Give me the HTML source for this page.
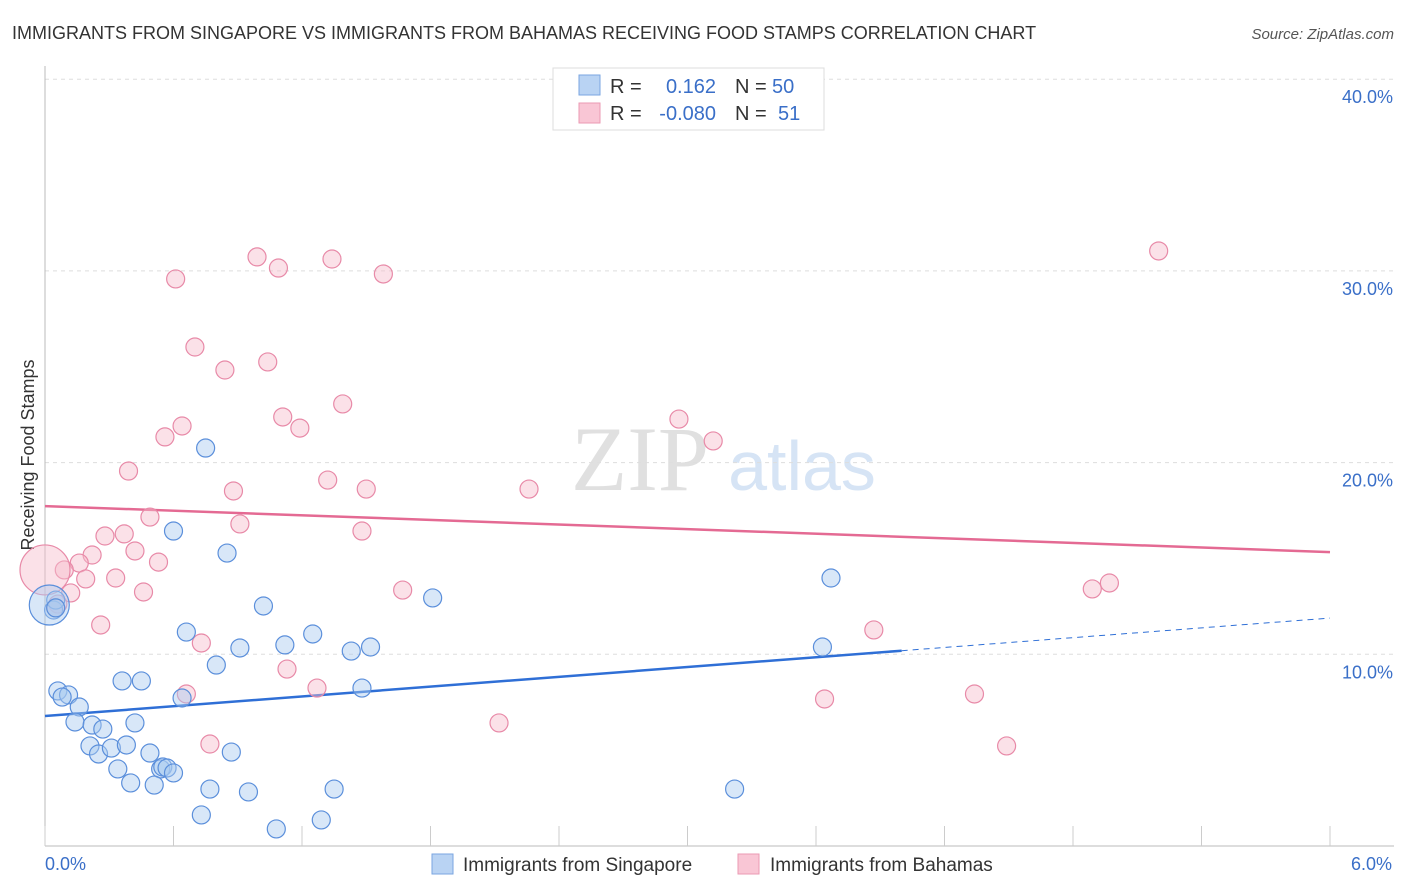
<!DOCTYPE html>
<html><head><meta charset="utf-8">
<style>
body{margin:0;background:#fff;font-family:"Liberation Sans",sans-serif;}
#wrap{position:relative;width:1406px;height:892px;overflow:hidden;}
</style></head>
<body><div id="wrap">
<svg id="chart" width="1406" height="892" xmlns="http://www.w3.org/2000/svg">
<text x="12" y="39" font-size="18" fill="#333">IMMIGRANTS FROM SINGAPORE VS IMMIGRANTS FROM BAHAMAS RECEIVING FOOD STAMPS CORRELATION CHART</text>
<text x="1394" y="39" font-size="15" fill="#555" font-style="italic" text-anchor="end">Source: ZipAtlas.com</text>
<text x="640" y="490" font-size="92" fill="#e0e0e0" font-family="Liberation Serif,serif" text-anchor="middle">ZIP</text>
<text x="802" y="490" font-size="70" fill="#d6e4f5" text-anchor="middle">atlas</text>
<text transform="translate(34,455) rotate(-90)" font-size="18" fill="#333" text-anchor="middle">Receiving Food Stamps</text>
<g id="grid"></g><g id="axes"></g><g id="trend"></g><g id="pts"></g>
<g>
<rect x="553" y="68" width="271" height="62" fill="#fff" stroke="#ddd"/>
<rect x="579" y="75" width="21" height="20" fill="#b9d3f3" stroke="#7aa6e0"/>
<rect x="579" y="103" width="21" height="20" fill="#f9c6d5" stroke="#eb9ab3"/>
<text x="610" y="93" font-size="20" fill="#333">R =</text><text x="716" y="93" font-size="20" fill="#3a6fc8" text-anchor="end">0.162</text>
<text x="735" y="93" font-size="20" fill="#333">N =</text><text x="772" y="93" font-size="20" fill="#3a6fc8">50</text>
<text x="610" y="120" font-size="20" fill="#333">R =</text><text x="716" y="120" font-size="20" fill="#3a6fc8" text-anchor="end">-0.080</text>
<text x="735" y="120" font-size="20" fill="#333">N =</text><text x="778" y="120" font-size="20" fill="#3a6fc8">51</text>
</g>
<g>
<rect x="432" y="854" width="21" height="20" fill="#b9d3f3" stroke="#7aa6e0"/>
<text x="463" y="871" font-size="19" fill="#333">Immigrants from Singapore</text>
<rect x="738" y="854" width="21" height="20" fill="#f9c6d5" stroke="#eb9ab3"/>
<text x="770" y="871" font-size="19" fill="#333">Immigrants from Bahamas</text>
</g>
</svg></div>
<script>
const yTicks=[10,20,30,40];
const yTickLabels=["10.0%","20.0%","30.0%","40.0%"];
const xTickVals=[0,0.6,1.2,1.8,2.4,3.0,3.6,4.2,4.8,5.4,6.0];
const xEndLabels=["0.0%","6.0%"];
const sgX=[0.75,0.60,0.85,1.02,1.81,0.66,1.12,1.25,0.91,1.43,1.52,0.80,3.67,3.63,0.36,0.45,1.48,0.64,0.06,0.11,0.08,0.16,0.14,0.22,0.27,0.42,0.21,0.25,0.31,0.38,0.49,0.34,0.54,0.55,0.57,0.60,0.40,0.51,0.77,0.95,1.35,0.87,3.22,0.73,1.08,1.29,0.04,0.05,0.02,0.05];
const sgY=[20.76,16.43,15.28,12.52,12.94,11.16,10.49,11.06,10.33,10.17,10.38,9.44,13.98,10.38,8.61,8.61,8.24,7.72,8.09,7.88,7.77,7.25,6.47,6.31,6.10,6.42,5.22,4.80,5.11,5.27,4.85,4.02,4.02,4.12,4.07,3.81,3.29,3.18,2.97,2.82,2.97,4.90,2.97,1.62,0.89,1.36,12.31,12.83,12.57,12.42];
const sgBig=[0,0,0,0,0,0,0,0,0,0,0,0,0,0,0,0,0,0,0,0,0,0,0,0,0,0,0,0,0,0,0,0,0,0,0,0,0,0,0,0,0,0,0,0,0,0,0,0,1,0];
const bhX=[5.20,0.99,1.09,1.34,1.58,0.61,0.70,0.84,1.04,1.11,1.19,1.39,0.64,0.56,2.96,3.12,0.39,0.88,1.32,1.50,2.26,0.49,0.91,0.28,0.37,1.48,0.42,0.22,0.53,0.16,0.09,0.00,0.33,0.19,0.46,0.12,0.06,0.05,1.67,4.89,4.97,0.26,0.73,1.13,3.87,0.66,1.27,3.64,4.34,2.12,0.77,4.49];
const bhY=[31.04,30.73,30.15,30.62,29.84,29.58,26.03,24.83,25.25,22.38,21.80,23.06,21.91,21.34,22.27,21.13,19.56,18.52,19.09,18.62,18.62,17.16,16.80,16.17,16.28,16.43,15.39,15.18,14.81,14.76,14.40,14.40,13.98,13.93,13.25,13.20,12.62,12.42,13.35,13.41,13.72,11.53,10.59,9.23,11.27,7.93,8.24,7.67,7.93,6.42,5.32,5.22];
const bhBig=[0,0,0,0,0,0,0,0,0,0,0,0,0,0,0,0,0,0,0,0,0,0,0,0,0,0,0,0,0,0,0,1,0,0,0,0,0,0,0,0,0,0,0,0,0,0,0,0,0,0,0,0];
const sgTrend=[6.78,11.89];
const bhTrend=[17.73,15.33];
const sgSolidEnd=4.0;
const NS="http://www.w3.org/2000/svg";
const X=v=>45+v*(1330-45)/6;
const Y=v=>846-v*19.17;
function mk(t,a,p){const e=document.createElementNS(NS,t);for(const k in a)e.setAttribute(k,a[k]);p.appendChild(e);return e;}
const grid=document.getElementById('grid'),axes=document.getElementById('axes');
yTicks.forEach((v,i)=>{
 const l=mk('line',{x1:45,x2:1394,y1:Y(v),y2:Y(v),stroke:'#ddd','stroke-dasharray':'4,4'},grid);
 
 
 const t=mk('text',{x:1393,y:Y(v)+24,'font-size':18,fill:'#3a6fc8','text-anchor':'end'},grid);
 t.textContent=yTickLabels[i];
 
 
});
const yl=mk('line',{x1:45,x2:45,y1:66,y2:846,stroke:'#bbb'},axes);


const xl=mk('line',{x1:45,x2:1394,y1:846,y2:846,stroke:'#bbb'},axes);


xTickVals.forEach(v=>{
 const t=mk('line',{x1:X(v),x2:X(v),y1:826,y2:846,stroke:'#ccc'},axes);
 
 
});
[[0,'start',45],[6,'end',1392]].forEach((d,i)=>{
 const t=mk('text',{x:d[2],y:870,'font-size':18,fill:'#3a6fc8','text-anchor':d[1]},axes);
 t.textContent=xEndLabels[i];
 
 
});
const pts=document.getElementById('pts');
function dots(xs,ys,big,fill,stroke,name){
 xs.forEach((x,i)=>{
  const c=mk('circle',{cx:X(x),cy:Y(ys[i]),r:big[i]?(name==='bahamas-point'?25:20):9,fill:fill,'fill-opacity':0.45,stroke:stroke,'stroke-width':1.2},pts);
  
  
 });
}
dots(bhX,bhY,bhBig,'#f7bccd','#e88aa8','bahamas-point');
dots(sgX,sgY,sgBig,'#a9c9f0','#5b8fdb','singapore-point');
const tr=document.getElementById('trend');
const slope=(sgTrend[1]-sgTrend[0])/6;
const a=mk('line',{x1:X(0),y1:Y(sgTrend[0]),x2:X(sgSolidEnd),y2:Y(sgTrend[0]+slope*sgSolidEnd),stroke:'#2f6fd6','stroke-width':2.5},tr);


const b=mk('line',{x1:X(sgSolidEnd),y1:Y(sgTrend[0]+slope*sgSolidEnd),x2:X(6),y2:Y(sgTrend[1]),stroke:'#2f6fd6','stroke-width':1,'stroke-dasharray':'6,5'},tr);


const c=mk('line',{x1:X(0),y1:Y(bhTrend[0]),x2:X(6),y2:Y(bhTrend[1]),stroke:'#e46a93','stroke-width':2.5},tr);


</script>
</body></html>
